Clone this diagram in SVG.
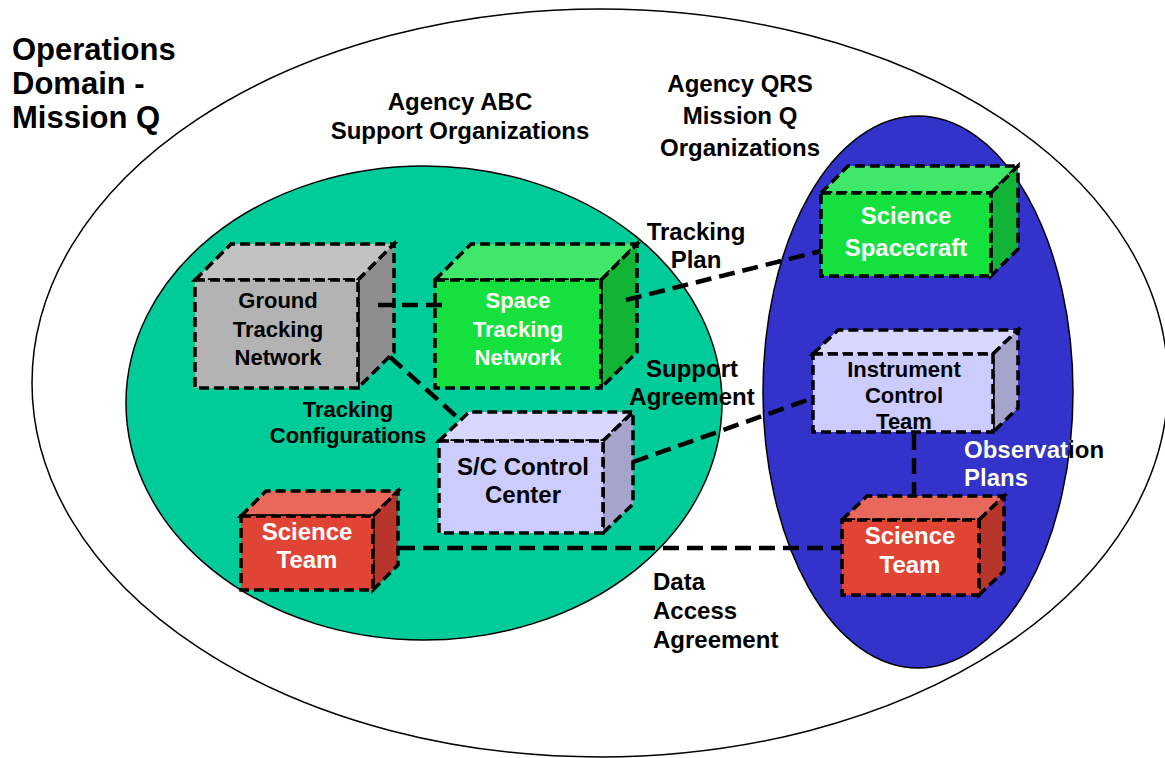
<svg xmlns="http://www.w3.org/2000/svg" width="1165" height="758" viewBox="0 0 1165 758">
<style>
text{font-family:"Liberation Sans",Arial,sans-serif;font-weight:bold}
.t31{font-size:31px}
.t24{font-size:24px}
.t22{font-size:22px}
.c{text-anchor:middle}
.blk{fill:#000}
.wht{fill:#fff}
.edge{stroke:#000;stroke-width:3.5;stroke-dasharray:10 5}
.conn{fill:none;stroke:#000;stroke-width:4.5;stroke-dasharray:16 8}
.region{stroke:#000;stroke-width:1.5}
</style>
<defs>
<clipPath id="blueClip"><ellipse cx="918" cy="392" rx="155" ry="276"/></clipPath>
</defs>
<rect width="1165" height="758" fill="#fff"/>
<g id="operations-domain">
<ellipse class="region" cx="600" cy="383" rx="568" ry="374" fill="#fff"/>
<text x="12" y="60" class="t31 blk">Operations</text>
<text x="12" y="94" class="t31 blk">Domain -</text>
<text x="12" y="128" class="t31 blk">Mission Q</text>
</g>
<g id="agency-abc">
<ellipse class="region" cx="424" cy="403" rx="298" ry="237" fill="#00cc99"/>
<text x="460" y="110" class="t24 c blk">Agency ABC</text>
<text x="460" y="139" class="t24 c blk">Support Organizations</text>
</g>
<g id="agency-qrs">
<ellipse class="region" cx="918" cy="392" rx="155" ry="276" fill="#3333cc"/>
<text x="740" y="92" class="t24 c blk">Agency QRS</text>
<text x="740" y="124" class="t24 c blk">Mission Q</text>
<text x="740" y="156" class="t24 c blk">Organizations</text>
</g>
<g id="ground-tracking-network">
<polygon class="edge" points="195,280 231,244 394,244 358,280" fill="#c2c2c2"/>
<polygon class="edge" points="358,280 394,244 394,352 358,388" fill="#8e8e8e"/>
<rect class="edge" x="195" y="280" width="163" height="108" fill="#b3b3b3"/>
<text x="278" y="308" class="t22 c blk">Ground</text>
<text x="278" y="337" class="t22 c blk">Tracking</text>
<text x="278" y="365" class="t22 c blk">Network</text>
</g>
<g id="space-tracking-network">
<polygon class="edge" points="435,280 471,244 637,244 601,280" fill="#40e86a"/>
<polygon class="edge" points="601,280 637,244 637,352 601,388" fill="#12b436"/>
<rect class="edge" x="435" y="280" width="166" height="108" fill="#14e03e"/>
<text x="518" y="308" class="t22 c wht">Space</text>
<text x="518" y="337" class="t22 c wht">Tracking</text>
<text x="518" y="365" class="t22 c wht">Network</text>
</g>
<g id="sc-control-center">
<polygon class="edge" points="439,441 469,412 633,412 603,441" fill="#d8d8ff"/>
<polygon class="edge" points="603,441 633,412 633,504 603,533" fill="#a4a4cc"/>
<rect class="edge" x="439" y="441" width="164" height="92" fill="#ccccff"/>
<text x="523" y="475" class="t24 c blk">S/C Control</text>
<text x="523" y="503" class="t24 c blk">Center</text>
</g>
<g id="science-team-abc">
<polygon class="edge" points="241,516 266,491 398,491 373,516" fill="#e8685c"/>
<polygon class="edge" points="373,516 398,491 398,565 373,590" fill="#b8352b"/>
<rect class="edge" x="241" y="516" width="132" height="74" fill="#e04434"/>
<text x="307" y="540" class="t24 c wht">Science</text>
<text x="307" y="568" class="t24 c wht">Team</text>
</g>
<g id="science-spacecraft">
<polygon class="edge" points="821,193 848,166 1018,166 991,193" fill="#40e86a"/>
<polygon class="edge" points="991,193 1018,166 1018,249 991,276" fill="#12b436"/>
<rect class="edge" x="821" y="193" width="170" height="83" fill="#14e03e"/>
<text x="906" y="224" class="t24 c wht">Science</text>
<text x="906" y="256" class="t24 c wht">Spacecraft</text>
</g>
<g id="instrument-control-team">
<polygon class="edge" points="813,354 838,330 1018,330 993,354" fill="#d8d8ff"/>
<polygon class="edge" points="993,354 1018,330 1018,408 993,432" fill="#a4a4cc"/>
<rect class="edge" x="813" y="354" width="180" height="78" fill="#ccccff"/>
<text x="904" y="377" class="t22 c blk">Instrument</text>
<text x="904" y="403" class="t22 c blk">Control</text>
<text x="904" y="429" class="t22 c blk">Team</text>
</g>
<g id="science-team-qrs">
<polygon class="edge" points="842,520 867,496 1004,496 979,520" fill="#e8685c"/>
<polygon class="edge" points="979,520 1004,496 1004,571 979,595" fill="#b8352b"/>
<rect class="edge" x="842" y="520" width="137" height="75" fill="#e04434"/>
<text x="910" y="544" class="t24 c wht">Science</text>
<text x="910" y="573" class="t24 c wht">Team</text>
</g>
<g id="connectors">
<line class="conn" x1="378" y1="305" x2="447" y2="305"/>
<line class="conn" x1="390" y1="357" x2="457" y2="417"/>
<line class="conn" x1="626" y1="300" x2="821" y2="251"/>
<line class="conn" x1="633" y1="462" x2="813" y2="398"/>
<line class="conn" x1="399" y1="548" x2="842" y2="548"/>
<line class="conn" x1="914" y1="434" x2="914" y2="494"/>
</g>
<g id="connector-labels">
<text x="696" y="240" class="t24 c blk">Tracking</text>
<text x="696" y="268" class="t24 c blk">Plan</text>
<text x="692" y="377" class="t24 c blk">Support</text>
<text x="692" y="405" class="t24 c blk">Agreement</text>
<text x="348" y="417" class="t22 c blk">Tracking</text>
<text x="348" y="443" class="t22 c blk">Configurations</text>
<text x="653" y="590" class="t24 blk">Data</text>
<text x="653" y="619" class="t24 blk">Access</text>
<text x="653" y="648" class="t24 blk">Agreement</text>
<text x="964" y="458" class="t24 blk">Observation</text>
<text x="964" y="486" class="t24 blk">Plans</text>
<g clip-path="url(#blueClip)">
<text x="964" y="458" class="t24 wht">Observation</text>
<text x="964" y="486" class="t24 wht">Plans</text>
</g>
</g>
</svg>
